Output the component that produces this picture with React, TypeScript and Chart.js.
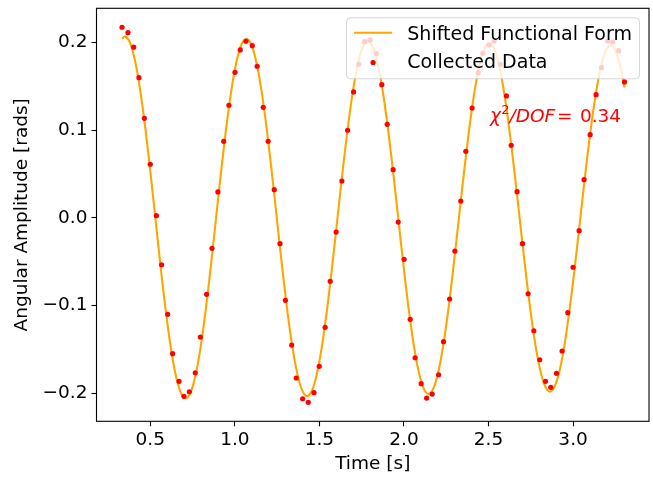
import React, { useEffect, useRef } from "react";
import { Chart, registerables } from "chart.js";

Chart.register(...registerables);

// ---- data ----
const dataTimes = [
  0.333, 0.368, 0.402, 0.433, 0.465, 0.500, 0.536, 0.567, 0.603, 0.632,
  0.670, 0.699, 0.731, 0.766, 0.796, 0.833, 0.865, 0.900, 0.934, 0.965,
  1.001, 1.032, 1.066, 1.103, 1.132, 1.168, 1.197, 1.233, 1.267, 1.299,
  1.336, 1.363, 1.401, 1.434, 1.468, 1.499, 1.534, 1.564, 1.599, 1.633,
  1.667, 1.702, 1.733, 1.767, 1.800, 1.836, 1.869, 1.901, 1.936, 1.966,
  2.001, 2.037, 2.066, 2.102, 2.134, 2.167, 2.205, 2.234, 2.270, 2.301,
  2.336, 2.366, 2.403, 2.439, 2.466, 2.504, 2.533, 2.571, 2.606, 2.634,
  2.669, 2.701, 2.734, 2.768, 2.803, 2.837, 2.868, 2.902, 2.935, 2.969,
  3.000, 3.036, 3.065, 3.101, 3.136, 3.168, 3.205, 3.235, 3.270, 3.304,
];

const dataValues = [
  0.2176, 0.2114, 0.1948, 0.1601, 0.1137, 0.0613, 0.0026, -0.0533, -0.1099, -0.1548,
  -0.1863, -0.2034, -0.1982, -0.1765, -0.1358, -0.0871, -0.0346, 0.0297, 0.0875, 0.1286,
  0.1662, 0.1917, 0.2016, 0.1966, 0.1731, 0.1263, 0.0875, 0.0323, -0.0293, -0.0939,
  -0.1449, -0.1825, -0.2062, -0.2103, -0.1993, -0.1692, -0.1247, -0.0722, -0.0160, 0.0422,
  0.1001, 0.1438, 0.1754, 0.2011, 0.2031, 0.1875, 0.1521, 0.1069, 0.0551, -0.0046,
  -0.0471, -0.1156, -0.1594, -0.1890, -0.2054, -0.2008, -0.1788, -0.1411, -0.0924, -0.0377,
  0.0194, 0.0761, 0.1255, 0.1658, 0.1879, 0.1974, 0.2019, 0.1754, 0.1392, 0.0829,
  0.0300, -0.0293, -0.0864, -0.1286, -0.1617, -0.1863, -0.1932, -0.1772, -0.1517, -0.1080,
  -0.0562, -0.0145, 0.0437, 0.0950, 0.1407, 0.1715, 0.2019, 0.2008, 0.1909, 0.1552,
];

const lineTimes = [
  0.3330, 0.3505, 0.3804, 0.4103, 0.4403, 0.4702, 0.5001, 0.5300, 0.5599, 0.5898, 0.6198,
  0.6497, 0.6796, 0.7095, 0.7394, 0.7693, 0.7993, 0.8292, 0.8591, 0.8890, 0.9189,
  0.9488, 0.9788, 1.0087, 1.0386, 1.0685, 1.0984, 1.1283, 1.1583, 1.1882, 1.2181,
  1.2480, 1.2779, 1.3078, 1.3378, 1.3677, 1.3976, 1.4275, 1.4574, 1.4873, 1.5173,
  1.5472, 1.5771, 1.6070, 1.6369, 1.6668, 1.6968, 1.7267, 1.7566, 1.7865, 1.8164,
  1.8463, 1.8763, 1.9062, 1.9361, 1.9660, 1.9959, 2.0258, 2.0558, 2.0857, 2.1156,
  2.1455, 2.1754, 2.2054, 2.2353, 2.2652, 2.2951, 2.3250, 2.3549, 2.3849, 2.4148,
  2.4447, 2.4746, 2.5045, 2.5344, 2.5644, 2.5943, 2.6242, 2.6541, 2.6840, 2.7139,
  2.7439, 2.7738, 2.8037, 2.8336, 2.8635, 2.8934, 2.9234, 2.9533, 2.9832, 3.0131,
  3.0430, 3.0729, 3.1029, 3.1328, 3.1627, 3.1926, 3.2225, 3.2524, 3.2824, 3.3040,
];

const lineValues = [
  0.2046, 0.2070, 0.1998, 0.1791, 0.1462, 0.1033, 0.0534, 0.0000, -0.0534, -0.1031, -0.1457,
  -0.1784, -0.1988, -0.2057, -0.1986, -0.1780, -0.1452, -0.1027, -0.0531, 0.0000, 0.0531,
  0.1025, 0.1448, 0.1773, 0.1976, 0.2045, 0.1974, 0.1769, 0.1444, 0.1021, 0.0528,
  0.0000, -0.0527, -0.1019, -0.1439, -0.1761, -0.1964, -0.2032, -0.1962, -0.1758, -0.1435,
  -0.1014, -0.0525, 0.0000, 0.0524, 0.1012, 0.1430, 0.1751, 0.1952, 0.2020, 0.1950,
  0.1748, 0.1426, 0.1008, 0.0521, 0.0000, -0.0521, -0.1006, -0.1421, -0.1740, -0.1940,
  -0.2007, -0.1938, -0.1736, -0.1417, -0.1002, -0.0518, 0.0000, 0.0518, 0.1000, 0.1413,
  0.1729, 0.1928, 0.1995, 0.1926, 0.1726, 0.1408, 0.0995, 0.0515, 0.0000, -0.0514,
  -0.0993, -0.1404, -0.1718, -0.1915, -0.1982, -0.1913, -0.1715, -0.1399, -0.0989, -0.0512,
  0.0000, 0.0511, 0.0987, 0.1395, 0.1708, 0.1904, 0.1970, 0.1902, 0.1704, 0.1489,
];

const xTicks = [0.5, 1.0, 1.5, 2.0, 2.5, 3.0];
const yTicks = [-0.2, -0.1, 0.0, 0.1, 0.2];
const xRange = [0.182, 3.449];
const yRange = [-0.2319, 0.2392];
const seriesLabels = ["Shifted Functional Form", "Collected Data"];
const axisTitles = ["Time [s]", "Angular Amplitude [rads]"];
const chiPos = [2.5, 0.11];
const chiValue = "0.34";

const FONT = "'DejaVu Sans', 'Liberation Sans', sans-serif";
const FS = 18.5;
const LFS = 19;
const ORANGE = "#ffa500";
const RED = "#ff0000";

function fmtTick(v: number): string {
  const s = Math.abs(v) < 1e-9 ? "0.0" : Number(v).toFixed(1);
  return s.replace("-", "\u2212");
}

function roundRect(ctx: CanvasRenderingContext2D, x: number, y: number, w: number, h: number, r: number) {
  ctx.beginPath();
  ctx.moveTo(x + r, y);
  ctx.lineTo(x + w - r, y);
  ctx.arcTo(x + w, y, x + w, y + r, r);
  ctx.lineTo(x + w, y + h - r);
  ctx.arcTo(x + w, y + h, x + w - r, y + h, r);
  ctx.lineTo(x + r, y + h);
  ctx.arcTo(x, y + h, x, y + h - r, r);
  ctx.lineTo(x, y + r);
  ctx.arcTo(x, y, x + r, y, r);
  ctx.closePath();
}

export default function App() {
  const ref = useRef<HTMLCanvasElement>(null);

  useEffect(() => {
    const canvas = ref.current;
    if (!canvas) return;

    const overlay = {
      id: "overlay",
      afterDatasetsDraw(chart: any) {
        const { ctx, chartArea: a } = chart;
        ctx.save();
        ctx.strokeStyle = "#000";
        ctx.lineWidth = 1.1;
        ctx.strokeRect(a.left, a.top, a.right - a.left, a.bottom - a.top);
        ctx.restore();
      },
      afterDraw(chart: any) {
        const { ctx, chartArea: a } = chart;
        const xs = chart.scales.x;
        const ys = chart.scales.y;
        ctx.save();
        // chi^2 annotation
        let px = xs.getPixelForValue(chiPos[0]) + 1.5;
        const py = ys.getPixelForValue(chiPos[1]);
        ctx.fillStyle = RED;
        ctx.textBaseline = "alphabetic";
        ctx.textAlign = "left";
        ctx.font = `italic ${FS}px ${FONT}`;
        ctx.fillText("\u03c7", px, py);
        px += ctx.measureText("\u03c7").width;
        ctx.font = `${FS * 0.7}px ${FONT}`;
        ctx.fillText("2", px + 0.3, py - FS * 0.4);
        px += ctx.measureText("2").width + 0.3;
        ctx.font = `italic ${FS}px ${FONT}`;
        ctx.fillText("/DOF", px, py);
        px += ctx.measureText("/DOF").width;
        ctx.font = `${FS}px ${FONT}`;
        px += FS * 0.1;
        ctx.fillText("=", px, py);
        px += ctx.measureText("=").width + FS * 0.08;
        ctx.fillText(" " + chiValue, px, py);

        // legend
        ctx.font = `${LFS}px ${FONT}`;
        const textW = Math.max(...seriesLabels.map((s) => ctx.measureText(s).width));
        const pad = 0.4 * LFS;
        const handleLen = 2 * LFS;
        const handlePad = 0.8 * LFS;
        const boxW = pad * 2 + handleLen + handlePad + textW;
        const boxH = 61;
        const right = a.right - 0.5 * LFS;
        const top = a.top + 0.5 * LFS;
        const left = right - boxW;
        roundRect(ctx, left, top, boxW, boxH, 4);
        ctx.fillStyle = "rgba(255,255,255,0.8)";
        ctx.fill();
        ctx.strokeStyle = "rgba(204,204,204,0.8)";
        ctx.lineWidth = 1;
        ctx.stroke();
        const hx = left + pad;
        const r1 = top + 15;
        const r2 = top + 44.7;
        ctx.strokeStyle = ORANGE;
        ctx.lineWidth = 2.1;
        ctx.beginPath();
        ctx.moveTo(hx, r1);
        ctx.lineTo(hx + handleLen, r1);
        ctx.stroke();
        ctx.fillStyle = RED;
        ctx.beginPath();
        ctx.arc(hx + handleLen / 2, r2, 2.6, 0, Math.PI * 2);
        ctx.fill();
        ctx.fillStyle = "#000";
        ctx.fillText(seriesLabels[0], hx + handleLen + handlePad, top + 21.9);
        ctx.fillText(seriesLabels[1], hx + handleLen + handlePad, top + 50.6);
        ctx.restore();
      },
    };

    const chart = new Chart(canvas, {
      type: "scatter",
      data: {
        datasets: [
          {
            type: "line",
            label: seriesLabels[0],
            data: lineTimes.map((t, i) => ({ x: t, y: lineValues[i] })),
            borderColor: ORANGE,
            backgroundColor: ORANGE,
            borderWidth: 2.1,
            pointRadius: 0,
            tension: 0.33,
            fill: false,
            order: 2,
          } as any,
          {
            type: "scatter",
            label: seriesLabels[1],
            data: dataTimes.map((t, i) => ({ x: t, y: dataValues[i] })),
            backgroundColor: RED,
            borderColor: RED,
            borderWidth: 0,
            pointRadius: 2.6,
            order: 1,
          } as any,
        ],
      },
      options: {
        animation: false,
        responsive: false,
        devicePixelRatio: 1,
        layout: { padding: { left: 0, top: 8.3, right: 3.7, bottom: 0 } },
        plugins: {
          legend: { display: false },
          tooltip: { enabled: false },
        },
        scales: {
          x: {
            type: "linear",
            min: xRange[0],
            max: xRange[1],
            afterBuildTicks: (s: any) => {
              s.ticks = xTicks.map((v) => ({ value: v }));
            },
            afterFit: (s: any) => {
              s.height = 55.7;
              s.paddingLeft = 0;
              s.paddingRight = 0;
              s.paddingTop = 0;
              s.paddingBottom = 0;
            },
            ticks: {
              callback: (v: any) => fmtTick(Number(v)),
              color: "#000",
              font: { family: FONT, size: FS },
              padding: 3,
              maxRotation: 0,
              autoSkip: false,
            },
            grid: {
              display: true,
              drawOnChartArea: false,
              drawTicks: true,
              tickLength: 5,
              color: "#000",
              tickColor: "#000",
              tickWidth: 1.1,
            },
            border: { display: false },
            title: {
              display: true,
              text: axisTitles[0],
              color: "#000",
              font: { family: FONT, size: FS },
              padding: { top: 0, bottom: 1.5 },
            },
          },
          y: {
            type: "linear",
            min: yRange[0],
            max: yRange[1],
            afterBuildTicks: (s: any) => {
              s.ticks = yTicks.map((v) => ({ value: v }));
            },
            afterFit: (s: any) => {
              s.width = 96.5;
              s.paddingLeft = 0;
              s.paddingRight = 0;
              s.paddingTop = 0;
              s.paddingBottom = 0;
            },
            ticks: {
              callback: (v: any) => fmtTick(Number(v)),
              color: "#000",
              font: { family: FONT, size: FS },
              padding: 4,
              autoSkip: false,
            },
            grid: {
              display: true,
              drawOnChartArea: false,
              drawTicks: true,
              tickLength: 5,
              color: "#000",
              tickColor: "#000",
              tickWidth: 1.1,
            },
            border: { display: false },
            title: {
              display: true,
              text: axisTitles[1],
              color: "#000",
              font: { family: FONT, size: FS },
              padding: { top: 11.5, bottom: 0 },
            },
          },
        },
      },
      plugins: [overlay],
    });

    return () => chart.destroy();
  }, []);

  return (
    <div style={{ position: "absolute", left: 0, top: 0, width: 653, height: 477, background: "#fff" }}>
      <canvas ref={ref} width={653} height={477} style={{ display: "block", width: 653, height: 477 }} />
    </div>
  );
}
